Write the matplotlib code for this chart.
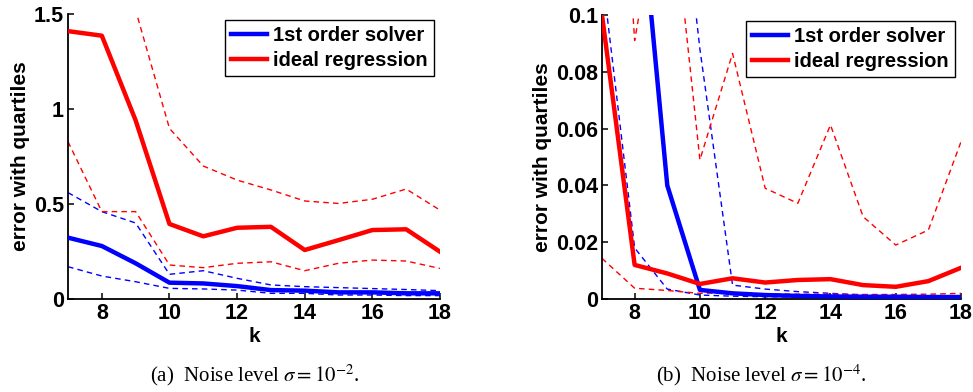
import matplotlib.pyplot as plt
import numpy as np

k = np.arange(7, 19)

# (a) sigma = 1e-2
a_solver_med = [0.323, 0.279, 0.188, 0.086, 0.082, 0.068, 0.047, 0.044, 0.035, 0.035, 0.030, 0.030]
a_solver_hi = [0.56, 0.46, 0.40, 0.13, 0.149, 0.109, 0.074, 0.065, 0.060, 0.055, 0.050, 0.044]
a_solver_lo = [0.17, 0.121, 0.091, 0.056, 0.053, 0.047, 0.030, 0.030, 0.021, 0.021, 0.018, 0.018]
a_ideal_med = [1.41, 1.386, 0.94, 0.395, 0.33, 0.375, 0.38, 0.258, 0.31, 0.363, 0.367, 0.249]
a_ideal_hi = [2.5, 2.2, 1.52, 0.898, 0.70, 0.626, 0.574, 0.516, 0.503, 0.525, 0.579, 0.468]
a_ideal_lo = [0.828, 0.46, 0.46, 0.179, 0.165, 0.188, 0.196, 0.149, 0.188, 0.205, 0.200, 0.161]

# (b) sigma = 1e-4
b_solver_med = [0.6, 0.162, 0.040, 0.0032, 0.002, 0.0014, 0.0011, 0.0009, 0.0008, 0.0008, 0.0007, 0.0007]
b_solver_hi = [0.8, 0.5, 0.19, 0.088, 0.0049, 0.0035, 0.0026, 0.002, 0.0014, 0.0013, 0.0012, 0.0012]
b_solver_lo = [0.115, 0.018, 0.0035, 0.0014, 0.001, 0.0008, 0.0007, 0.0007, 0.0006, 0.0006, 0.0006, 0.0006]
b_ideal_med = [0.1, 0.012, 0.009, 0.0053, 0.0073, 0.0058, 0.0067, 0.007, 0.0049, 0.0043, 0.0063, 0.011]
b_ideal_hi = [0.27, 0.091, 0.157, 0.049, 0.0865, 0.039, 0.0337, 0.0613, 0.029, 0.019, 0.0243, 0.0554]
b_ideal_lo = [0.0143, 0.0038, 0.003, 0.002, 0.0022, 0.0018, 0.0017, 0.0017, 0.0016, 0.0016, 0.0017, 0.002]

yticks_a = [0, 0.5, 1, 1.5]
yticklabels_a = ['0', '0.5', '1', '1.5']
yticks_b = [0, 0.02, 0.04, 0.06, 0.08, 0.1]
yticklabels_b = ['0', '0.02', '0.04', '0.06', '0.08', '0.1']
xticks = [8, 10, 12, 14, 16, 18]

plt.rcParams['font.family'] = 'Liberation Sans'

fig = plt.figure(figsize=(9.73, 3.92), dpi=100)
ax1 = fig.add_axes([0.0699, 0.2372, 0.3823, 0.727])
ax2 = fig.add_axes([0.6187, 0.2372, 0.369, 0.7245])


def draw(ax, med1, hi1, lo1, med2, hi2, lo2, ymax, yt, ytl):
    ax.plot(k, med1, '-', c='b', lw=3.2, label='1st order solver', zorder=3)
    ax.plot(k, med2, '-', c='r', lw=3.2, label='ideal regression', zorder=3)
    ax.plot(k, hi1, '--', c='b', lw=1.0, dashes=(4, 3))
    ax.plot(k, lo1, '--', c='b', lw=1.0, dashes=(4, 3))
    ax.plot(k, hi2, '--', c='r', lw=1.0, dashes=(4, 3))
    ax.plot(k, lo2, '--', c='r', lw=1.0, dashes=(4, 3))
    ax.set_xlim(7, 18)
    ax.set_ylim(0, ymax)
    ax.set_xticks(xticks)
    ax.set_yticks(yt)
    ax.set_yticklabels(ytl)
    ax.spines['top'].set_visible(False)
    ax.spines['right'].set_visible(False)
    for s in ['left', 'bottom']:
        ax.spines[s].set_linewidth(1.3)
    ax.tick_params(direction='in', length=4, width=1.1, labelsize=15.5, pad=3)
    for lab in ax.get_xticklabels() + ax.get_yticklabels():
        lab.set_fontweight('bold')
    ax.set_xlabel('k', fontsize=15, fontweight='bold', labelpad=2)
    ax.set_ylabel('error with quartiles', fontsize=15, fontweight='bold', labelpad=3)
    leg = ax.legend(loc='upper right', fontsize=14, fancybox=False, framealpha=1,
                    edgecolor='k', handlelength=1.8, handletextpad=0.3,
                    borderpad=0.3, labelspacing=0.3, borderaxespad=0.3,
                    prop={'weight': 'bold', 'size': 14.5})
    leg.get_frame().set_linewidth(1.0)


draw(ax1, a_solver_med, a_solver_hi, a_solver_lo, a_ideal_med, a_ideal_hi, a_ideal_lo,
     1.5, yticks_a, yticklabels_a)
draw(ax2, b_solver_med, b_solver_hi, b_solver_lo, b_ideal_med, b_ideal_hi, b_ideal_lo,
     0.1, yticks_b, yticklabels_b)

fig.text(0.262, 0.043, r'(a)  Noise level $\sigma = 10^{-2}$.', ha='center', va='center',
         fontsize=15, family='Liberation Serif', math_fontfamily='stix')
fig.text(0.782, 0.043, r'(b)  Noise level $\sigma = 10^{-4}$.', ha='center', va='center',
         fontsize=15, family='Liberation Serif', math_fontfamily='stix')

fig.savefig('out.png', dpi=100)
